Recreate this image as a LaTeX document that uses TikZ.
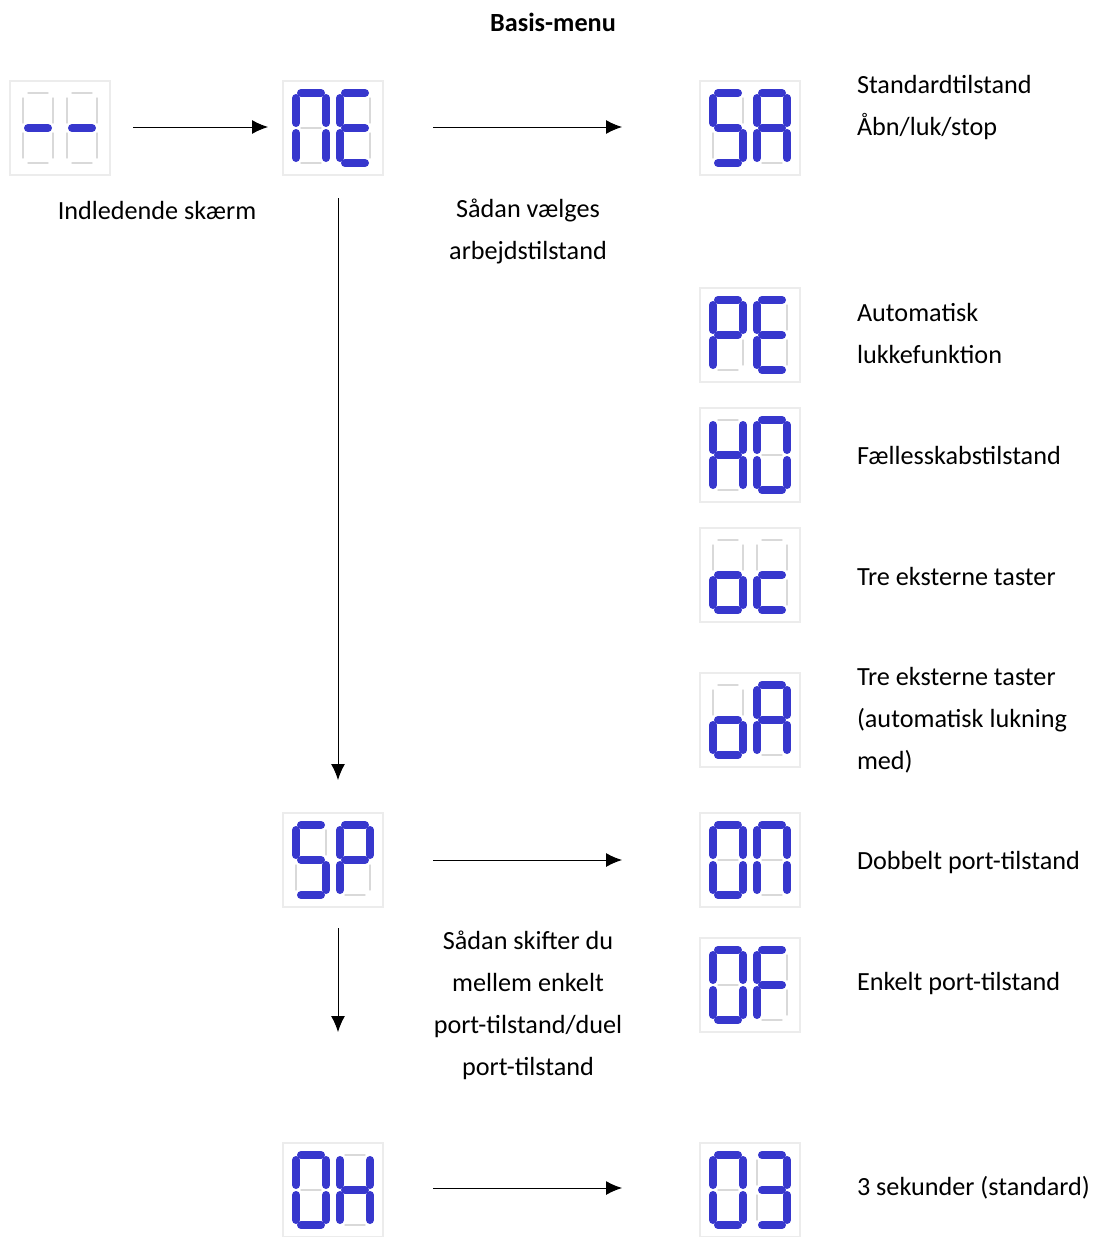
\documentclass[tikz,border=0pt]{standalone}
\usepackage{fontspec}
\setmainfont{Carlito}
\usetikzlibrary{arrows.meta,calc}
\tikzset{every picture/.style={line width=0.5pt}}
\tikzset{
  disp/.style={draw=gray!15,line width=0.6pt,minimum width=50pt,minimum height=47pt,inner sep=0pt},
  segoff/.style={draw=gray!30,line width=0.7pt,line cap=round},
  segon/.style={draw={rgb,255:red,55;green,55;blue,205},line width=4pt,line cap=round},
  txt/.style={anchor=west,align=left,inner sep=0.75pt,font=\fontsize{13.1}{21}\selectfont},
  ctxt/.style={align=center,inner sep=0.75pt,font=\fontsize{13.1}{21}\selectfont},
  arr/.style={-{Latex[length=8pt,width=7pt]}}
}
% segments of one digit
\def\sga{(-10,-35)--(10,-35)}
\def\sgb{(15,-30)--(15,-5)}
\def\sgc{(15,5)--(15,30)}
\def\sgd{(-10,35)--(10,35)}
\def\sge{(-15,5)--(-15,30)}
\def\sgf{(-15,-30)--(-15,-5)}
\def\sgg{(-10,0)--(10,0)}
\newcommand\digit[2]{%
  \begin{scope}[shift={#1}]
  \foreach \s in {a,b,c,d,e,f,g} \draw[segoff] \csname sg\s\endcsname;
  \foreach \s in {#2} \draw[segon] \csname sg\s\endcsname;
  \end{scope}}
\newcommand\twodig[3]{%
  \digit{($(#1)+(-22,0)$)}{#2}
  \digit{($(#1)+(22,0)$)}{#3}}

\begin{document}
\begin{tikzpicture}[x=0.5pt,y=0.5pt,yscale=-1,xscale=1]
\path[use as bounding box] (0,0) rectangle (1098,1237);

% title
\node (title) at (553,22) {\fontsize{13.1}{15}\selectfont\bfseries Basis-menu};

% displays
\node[disp] (init) at (60,128) {};
\node[disp] (ne) at (333,128) {};
\node[disp] (sa) at (750,128) {};
\node[disp] (pe) at (750,335) {};
\node[disp] (ho) at (750,455) {};
\node[disp] (oc) at (750,575) {};
\node[disp] (oa) at (750,720) {};
\node[disp] (sp) at (333,860) {};
\node[disp] (dd) at (750,860) {};
\node[disp] (of) at (750,985) {};
\node[disp] (oh) at (333,1190) {};
\node[disp] (os) at (750,1190) {};

\twodig{init}{g}{g}
\twodig{ne}{a,b,c,e,f}{a,d,e,f,g}
\twodig{sa}{a,c,d,f,g}{a,b,c,e,f,g}
\twodig{pe}{a,b,e,f,g}{a,d,e,f,g}
\twodig{ho}{b,c,e,f,g}{a,b,c,d,e,f}
\twodig{oc}{c,d,e,g}{d,e,g}
\twodig{oa}{c,d,e,g}{a,b,c,e,f,g}
\twodig{sp}{a,c,d,f,g}{a,b,e,f,g}
\twodig{dd}{a,b,c,d,e,f}{a,b,c,e,f}
\twodig{of}{a,b,c,d,e,f}{a,e,f,g}
\twodig{oh}{a,b,c,d,e,f}{b,c,e,f,g}
\twodig{os}{a,b,c,d,e,f}{a,b,c,d,g}

% arrow ends
\coordinate (a1) at (133,127);
\coordinate (b1) at (268,127);
\coordinate (a2) at (433,127);
\coordinate (b2) at (622,127);
\coordinate (a3) at (338,198);
\coordinate (b3) at (338,780);
\coordinate (a4) at (433,860);
\coordinate (b4) at (622,860);
\coordinate (a5) at (338,928);
\coordinate (b5) at (338,1032);
\coordinate (a6) at (433,1188);
\coordinate (b6) at (622,1188);
\foreach \i in {1,...,6} \draw[arr] (a\i) -- (b\i);

% texts
\node[ctxt] (tinit) at (157,210) {Indledende skærm};
\node[ctxt] (twork) at (528,231) {Sådan vælges\\arbejdstilstand};
\node[ctxt] (tport) at (528,1005) {Sådan skifter du\\mellem enkelt\\port-tilstand/duel\\port-tilstand};
\node[txt] (tsa) at (855,108) {Standardtilstand\\Åbn/luk/stop};
\node[txt] (tpe) at (855,333) {Automatisk\\lukkefunktion};
\node[txt] (tho) at (855,455) {Fællesskabstilstand};
\node[txt] (toc) at (855,576) {Tre eksterne taster};
\node[txt] (toa) at (855,720) {Tre eksterne taster\\(automatisk lukning\\med)};
\node[txt] (tdd) at (855,863) {Dobbelt port-tilstand};
\node[txt] (tof) at (855,984) {Enkelt port-tilstand};
\node[txt] (tos) at (855,1188) {3 sekunder (standard)};
\end{tikzpicture}
\end{document}
